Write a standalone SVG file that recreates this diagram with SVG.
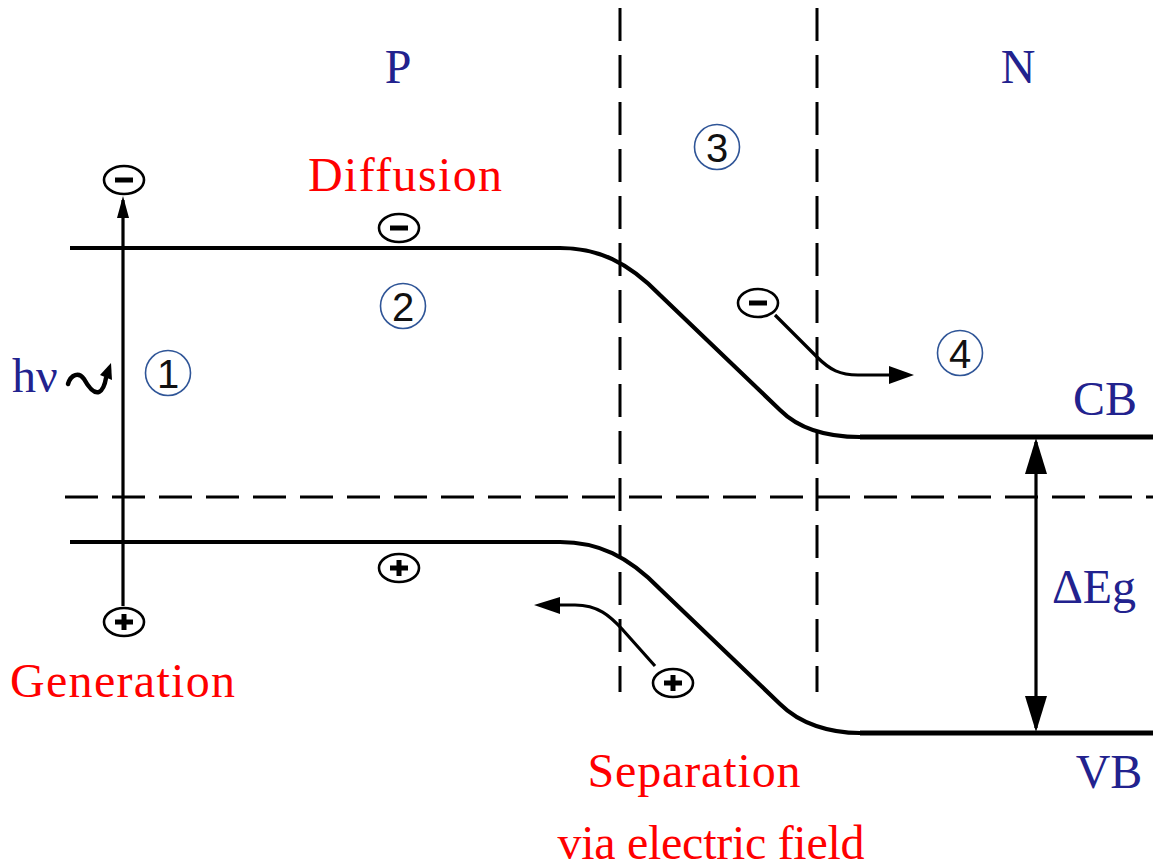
<svg xmlns="http://www.w3.org/2000/svg" width="1153" height="868" viewBox="0 0 1153 868">
<style>
.band{fill:none;stroke:#000;stroke-width:4.2}
.dash{fill:none;stroke:#000;stroke-width:3;stroke-dasharray:33 14}
.line{fill:none;stroke:#000;stroke-width:3.2}
.carrier{fill:#fff;stroke:#000;stroke-width:2.6}
.sign{stroke:#000;stroke-width:5;fill:none}
.num{fill:#fff;stroke:#2f5597;stroke-width:1.6}
.numt{font-family:"Liberation Sans",Arial,sans-serif;font-size:40px;font-weight:normal;fill:#111;text-anchor:middle}
.lab{font-family:"Liberation Serif","Times New Roman",serif;font-size:48px}
.blue{fill:#22228e}
.red{fill:#ff0000}
</style>
<rect width="1153" height="868" fill="#fff"/>

<g id="bands">
<path class="band" d="M70,248 H560 C598,248 628,262 660,295 L780,410 C800,430 830,437 860,437 H1153"/>
<path class="band" d="M70,542 H560 C598,542 628,556 660,589 L780,704 C800,724 830,733 860,733 H1153"/>
<path d="M860,437 H1153 M860,733 H1153" stroke="#000" stroke-width="5" fill="none"/>
</g>

<g id="dashed-lines">
<path class="dash" d="M65,497 H1153"/>
<path class="dash" d="M620,8 V692"/>
<path class="dash" d="M817,8 V692"/>
</g>

<g id="connectors">
<path class="line" d="M123,606 V200"/>
<path d="M123,196 L129,218 L117,218 Z" fill="#000"/>
<path class="line" d="M1036,442 V728"/>
<path d="M1036,438 L1047,474 L1025,474 Z" fill="#000"/>
<path d="M1036,732 L1047,696 L1025,696 Z" fill="#000"/>
<path class="line" d="M775,315 L817,357 C830,370 840,375 858,375 H892"/>
<path d="M914,375 L889,366 L889,384 Z" fill="#000"/>
<path class="line" d="M655,666 L622,629 C610,616 598,605 575,605 H556"/>
<path d="M534,605 L560,597 L560,614 Z" fill="#000"/>
<path d="M68,384 C71,374 79,372 84,379 C89,388 94,394 99,392 C103,390 105,384 106,378" fill="none" stroke="#000" stroke-width="4.5" stroke-linecap="round"/>
<path d="M111,363 L112,380 L100,375 Z" fill="#000"/>
</g>

<g id="carrier-gen-electron">
<ellipse class="carrier" cx="124" cy="180" rx="20" ry="14"/>
<line class="sign" x1="115" y1="180" x2="133" y2="180" stroke-width="6"/>
</g>
<g id="carrier-gen-hole">
<ellipse class="carrier" cx="124" cy="622" rx="20" ry="14"/>
<path class="sign" d="M115,622 H133 M124,614 V630" stroke-width="4"/>
</g>
<g id="carrier-diff-electron">
<ellipse class="carrier" cx="399" cy="228" rx="20" ry="14"/>
<line class="sign" x1="390" y1="228" x2="408" y2="228" stroke-width="6"/>
</g>
<g id="carrier-diff-hole">
<ellipse class="carrier" cx="399" cy="568" rx="20" ry="14"/>
<path class="sign" d="M390,568 H408 M399,560 V576" stroke-width="4"/>
</g>
<g id="carrier-sep-electron">
<ellipse class="carrier" cx="758" cy="303" rx="20" ry="14"/>
<line class="sign" x1="749" y1="303" x2="767" y2="303" stroke-width="6"/>
</g>
<g id="carrier-sep-hole">
<ellipse class="carrier" cx="673" cy="683" rx="20" ry="14"/>
<path class="sign" d="M664,683 H682 M673,675 V691" stroke-width="4"/>
</g>

<g id="num1"><circle class="num" cx="168" cy="373" r="22.5"/><text class="numt" x="168" y="388">1</text></g>
<g id="num2"><circle class="num" cx="403" cy="306" r="22.5"/><text class="numt" x="403" y="321">2</text></g>
<g id="num3"><circle class="num" cx="717" cy="147" r="22.5"/><text class="numt" x="717" y="162">3</text></g>
<g id="num4"><circle class="num" cx="960" cy="353" r="22.5"/><text class="numt" x="960" y="368">4</text></g>

<g id="labels">
<text class="lab blue" x="398" y="83" text-anchor="middle">P</text>
<text class="lab blue" x="1018" y="83" text-anchor="middle">N</text>
<text class="lab red" x="405" y="191" text-anchor="middle" textLength="194">Diffusion</text>
<text class="lab red" x="10" y="697" textLength="225">Generation</text>
<text class="lab red" x="694" y="787" text-anchor="middle" textLength="213">Separation</text>
<text class="lab red" x="711" y="859" text-anchor="middle" textLength="307">via electric field</text>
<text class="lab blue" x="1105" y="415" text-anchor="middle">CB</text>
<text class="lab blue" x="1109" y="788" text-anchor="middle">VB</text>
<text class="lab blue" x="1094" y="603" text-anchor="middle">ΔEg</text>
<text class="lab blue" x="12" y="392" font-size="48">hν</text>
</g>
</svg>
